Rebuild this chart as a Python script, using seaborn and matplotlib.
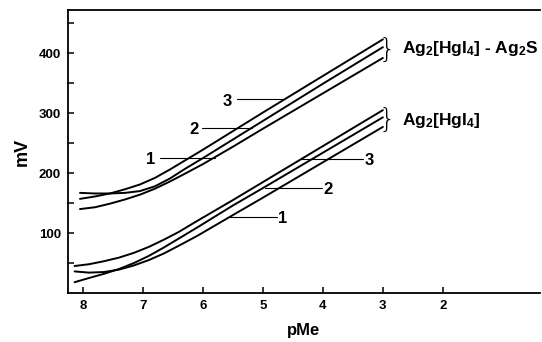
import matplotlib
matplotlib.use("Agg")
import matplotlib.pyplot as plt
import seaborn as sns
import pandas as pd

# ---- data ----
# upper group: Ag2[HgI4] - Ag2S
up_pme = [8.05, 7.8, 7.55, 7.3, 7.05, 6.8, 6.55, 6.3, 6.0, 5.5, 5.0, 4.0, 3.0]
up3_mv = [157, 161, 166, 173, 181, 192, 206, 221, 239, 270, 301, 362, 423]
up2_mv = [167, 166, 166, 167, 170, 178, 191, 207, 225, 256, 287, 349, 410]
up1_mv = [140, 143, 149, 156, 164, 174, 186, 199, 215, 244, 274, 333, 392]
# lower group: Ag2[HgI4]
lo_pme = [8.14, 7.9, 7.65, 7.4, 7.15, 6.9, 6.65, 6.4, 6.1, 5.5, 5.0, 4.0, 3.0]
lo3_mv = [45, 48, 53, 59, 67, 77, 89, 102, 120, 155, 185, 245, 305]
lo2_mv = [18, 25, 32, 40, 50, 62, 76, 91, 109, 146, 175, 234, 293]
lo1_mv = [36, 34, 35, 39, 46, 55, 66, 79, 95, 130, 159, 218, 277]

x_ticks = [8, 7, 6, 5, 4, 3, 2]
y_major = [100, 200, 300, 400]
y_minor = [50, 150, 250, 350, 450]
curve_labels = ["1", "2", "3"]
group_labels = ["Ag$_2$[HgI$_4$] - Ag$_2$S", "Ag$_2$[HgI$_4$]"]

rows = []
for grp, pme, series in [("up", up_pme, [up1_mv, up2_mv, up3_mv]),
                         ("lo", lo_pme, [lo1_mv, lo2_mv, lo3_mv])]:
    for lab, mv in zip(curve_labels, series):
        for p, v in zip(pme, mv):
            rows.append({"curve": grp + lab, "pMe": p, "mV": v})
df = pd.DataFrame(rows)

# ---- style ----
sns.set_style("ticks")
plt.rcParams["font.family"] = ["Liberation Sans", "DejaVu Sans"]
plt.rcParams["font.weight"] = "bold"
for k in ["text.color", "axes.labelcolor", "xtick.color", "ytick.color",
          "axes.edgecolor"]:
    plt.rcParams[k] = "black"
plt.rcParams["mathtext.fontset"] = "custom"
plt.rcParams["mathtext.rm"] = "Liberation Sans:bold"
plt.rcParams["mathtext.it"] = "Liberation Sans:bold"
plt.rcParams["mathtext.bf"] = "Liberation Sans:bold"
plt.rcParams["mathtext.default"] = "rm"

fig = plt.figure(figsize=(5.42, 3.42), dpi=100)
ax = fig.add_axes([68 / 542, (342 - 293) / 342, (540 - 68) / 542, (293 - 10) / 342])

for name, sub in df.groupby("curve", sort=False):
    sns.lineplot(data=sub, x="pMe", y="mV", ax=ax, color="black", lw=1.4,
                 sort=False, estimator=None, legend=False)

ax.set_xlim(8.25, 0.38)
ax.set_ylim(0, 472)
ax.set_xticks(x_ticks)
ax.set_xticklabels([str(t) for t in x_ticks])
ax.set_yticks(y_major)
ax.set_yticks(y_minor, minor=True)
ax.tick_params(axis="both", which="both", direction="in", width=1.1,
               labelsize=9.5, pad=5, color="black", labelcolor="black")
ax.tick_params(axis="y", which="both", length=4.5)
ax.tick_params(axis="x", which="both", length=4)
for lab in ax.get_xticklabels() + ax.get_yticklabels():
    lab.set_fontweight("bold")
for s in ["left", "bottom", "top"]:
    ax.spines[s].set_linewidth(1.3)
    ax.spines[s].set_color("black")
ax.spines["right"].set_visible(False)

ax.set_xlabel("pMe", fontsize=12, fontweight="bold", labelpad=8)
ax.set_ylabel("mV", fontsize=13, fontweight="bold", labelpad=6)

# leaders and curve numbers
leaders = [  # (x_from, x_to, y, text_x, text_y, label)
    (5.43, 4.67, 323, 5.60, 320, "3"),
    (6.02, 5.18, 275, 6.15, 272, "2"),
    (6.72, 5.80, 225, 6.87, 222, "1"),
    (4.38, 3.33, 223, 3.22, 221, "3"),
    (4.97, 4.02, 175, 3.91, 173, "2"),
    (5.60, 4.77, 127, 4.67, 125, "1"),
]
for x0, x1, y, tx, ty, t in leaders:
    ax.plot([x0, x1], [y, y], color="black", lw=0.8)
    ax.text(tx, ty, t, ha="center", va="center", fontsize=12, fontweight="bold")

# braces and group labels
ax.text(2.93, 406, "}", ha="center", va="center", fontsize=19,
        fontweight="light", family="DejaVu Sans")
ax.text(2.93, 289, "}", ha="center", va="center", fontsize=19,
        fontweight="light", family="DejaVu Sans")
ax.text(2.68, 408, group_labels[0], ha="left", va="center", fontsize=12.5,
        fontweight="bold")
ax.text(2.68, 287, group_labels[1], ha="left", va="center", fontsize=12.5,
        fontweight="bold")

fig.savefig("out.png", dpi=100)
